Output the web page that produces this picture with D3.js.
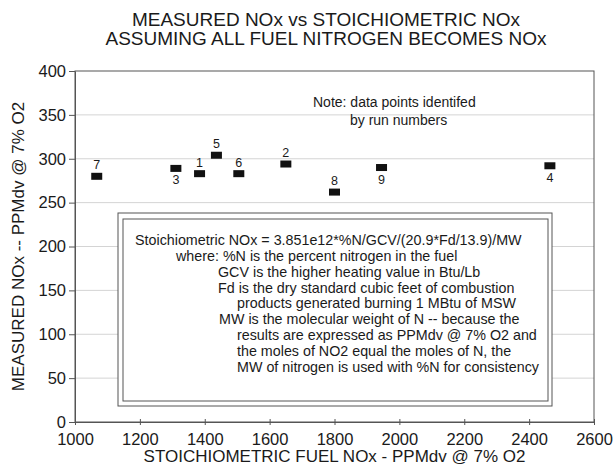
<!DOCTYPE html>
<html lang="en">
<head>
    <title>Measured NOx vs Stoichiometric NOx</title>
    <script src="https://d3js.org/d3.v7.min.js"></script>
    <style>
        body { margin: 0; background: #fff; }
        text { font-family: "Liberation Sans", Arial, Helvetica, sans-serif; fill: #1a1a1a; }
    </style>
</head>
<body>

<script>
    // run numbers and their values
    const runs = [1, 2, 3, 4, 5, 6, 7, 8, 9];
    const stoichNOx = [1384, 1650, 1311, 2464, 1436, 1505, 1067, 1800, 1945];
    const measuredNOx = [283, 294, 289, 292, 304, 283, 280, 262, 290];

    const xTicks = [1000, 1200, 1400, 1600, 1800, 2000, 2200, 2400, 2600];
    const yTicks = [0, 50, 100, 150, 200, 250, 300, 350, 400];

    const titleLines = ["MEASURED NOx vs STOICHIOMETRIC NOx", "ASSUMING ALL FUEL NITROGEN BECOMES NOx"];
    const xTitle = "STOICHIOMETRIC FUEL NOx - PPMdv @ 7% O2";
    const yTitle = "MEASURED NOx -- PPMdv @ 7% O2";
    const noteLines = ["Note: data points identifed", "by run numbers"];
    const formulaLines = [
        "Stoichiometric NOx = 3.851e12*%N/GCV/(20.9*Fd/13.9)/MW",
        "where: %N is the percent nitrogen in the fuel",
        "GCV is the higher heating value in Btu/Lb",
        "Fd is the dry standard cubic feet of combustion",
        "products generated burning 1 MBtu of MSW",
        "MW is the molecular weight of N -- because the",
        "results are expressed as PPMdv @ 7% O2 and",
        "the moles of NO2 equal the moles of N, the",
        "MW of nitrogen is used with %N for consistency"
    ];
    const formulaIndent = [135, 176, 218, 218, 237, 219, 237, 237, 237];

    const data = runs.map((r, i) => ({run: r, x: stoichNOx[i], y: measuredNOx[i]}));
    const labelsBelow = new Set([3, 4, 9]);

    const W = 615, H = 466;
    const margin = {left: 75, top: 71, right: 21, bottom: 44};
    const width = W - margin.left - margin.right;
    const height = H - margin.top - margin.bottom;

    const svg = d3.select("body").append("svg")
            .attr("width", W).attr("height", H);

    const x = d3.scaleLinear().domain([1000, 2600]).range([0, width]);
    const y = d3.scaleLinear().domain([0, 400]).range([height, 0]);

    const g = svg.append("g").attr("transform", `translate(${margin.left},${margin.top})`);

    // faint grid
    g.append("g").selectAll("line")
            .data(yTicks.filter(d => d > 0 && d < 400)).enter()
            .append("line")
            .attr("x1", 0).attr("x2", width)
            .attr("y1", d => y(d)).attr("y2", d => y(d))
            .attr("stroke", "#d4d4d4").attr("stroke-width", 1);

    // frame
    g.append("rect")
            .attr("width", width).attr("height", height)
            .attr("fill", "none").attr("stroke", "#555").attr("stroke-width", 1);

    const xAxis = g.append("g")
            .attr("transform", `translate(0,${height})`)
            .call(d3.axisBottom(x).tickValues(xTicks).tickFormat(d3.format("d"))
                    .tickSize(3).tickPadding(8).tickSizeOuter(0));
    xAxis.selectAll(".tick line").attr("y1", -3).attr("y2", 3);

    const yAxis = g.append("g")
            .call(d3.axisLeft(y).tickValues(yTicks).tickSize(6).tickPadding(3).tickSizeOuter(0));

    [xAxis, yAxis].forEach(a => {
        a.select(".domain").attr("stroke", "#555");
        a.selectAll(".tick line").attr("stroke", "#555");
        a.selectAll("text")
                .style("font-family", '"Liberation Sans", Arial, sans-serif')
                .style("font-size", "16.5px").attr("fill", "#1a1a1a");
    });
    xAxis.selectAll("text").attr("dy", "0.71em");

    // formula box
    const box = g.append("g");
    box.append("rect")
            .attr("x", 118 - margin.left).attr("y", 213 - margin.top)
            .attr("width", 434).attr("height", 193)
            .attr("fill", "#fff").attr("stroke", "#555");
    box.append("rect")
            .attr("x", 123 - margin.left).attr("y", 219 - margin.top)
            .attr("width", 425).attr("height", 182)
            .attr("fill", "none").attr("stroke", "#555");
    box.selectAll("text")
            .data(formulaLines).enter()
            .append("text")
            .attr("x", (d, i) => formulaIndent[i] - margin.left)
            .attr("y", (d, i) => 245 - margin.top + i * 15.85)
            .style("font-size", "14.3px")
            .text(d => d);

    // note
    g.selectAll(".note")
            .data(noteLines).enter()
            .append("text")
            .attr("class", "note")
            .attr("x", (d, i) => (i === 0 ? 313 : 350) - margin.left)
            .attr("y", (d, i) => (i === 0 ? 107 : 124.5) - margin.top)
            .style("font-size", "14px")
            .text(d => d);

    // points
    g.selectAll(".pt")
            .data(data).enter()
            .append("rect")
            .attr("class", "pt")
            .attr("x", d => x(d.x) - 5.5)
            .attr("y", d => y(d.y) - 3.5)
            .attr("width", 11).attr("height", 7)
            .attr("fill", "#111");

    g.selectAll(".lbl")
            .data(data).enter()
            .append("text")
            .attr("class", "lbl")
            .attr("x", d => x(d.x))
            .attr("y", d => y(d.y) + (labelsBelow.has(d.run) ? 16 : -7))
            .attr("text-anchor", "middle")
            .style("font-size", "12.5px")
            .text(d => d.run);

    // titles
    svg.selectAll(".title")
            .data(titleLines).enter()
            .append("text")
            .attr("class", "title")
            .attr("x", 326)
            .attr("y", (d, i) => 26 + i * 19)
            .attr("text-anchor", "middle")
            .style("font-size", "19px")
            .text(d => d);

    svg.append("text")
            .attr("x", margin.left + width / 2)
            .attr("y", 462)
            .attr("text-anchor", "middle")
            .style("font-size", "17px")
            .text(xTitle);

    svg.append("text")
            .attr("transform", `translate(24,${margin.top + height / 2}) rotate(-90)`)
            .attr("text-anchor", "middle")
            .style("font-size", "17px")
            .text(yTitle);
</script>

</body>
</html>
